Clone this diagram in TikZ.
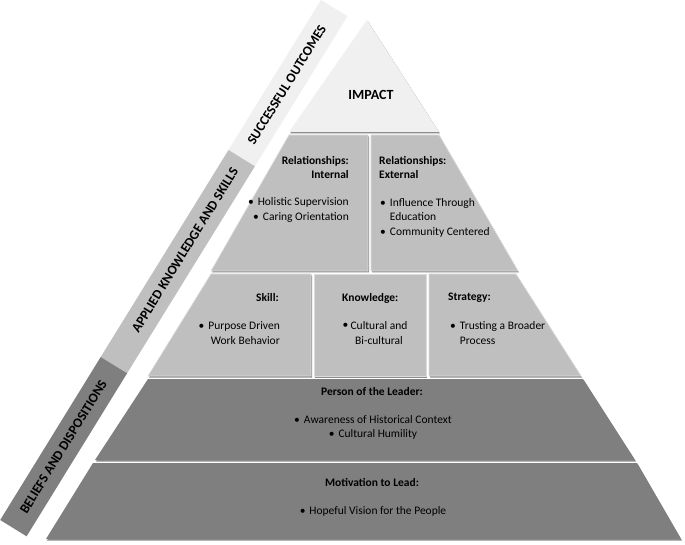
\documentclass[tikz,border=0pt]{standalone}
\usepackage{fontspec}
\setmainfont{Carlito}
\usetikzlibrary{shadows}
\definecolor{lightband}{HTML}{F0F0F0}
\definecolor{midband}{HTML}{BFBFBF}
\definecolor{darkband}{HTML}{7F7F7F}
\tikzset{
  band/.style={drop shadow={shadow xshift=1pt, shadow yshift=-1.5pt, opacity=0.45, fill=black}},
  midbox/.style={band, fill=midband, draw=midband!55!white, line width=0.6pt},
  darkbox/.style={band, fill=darkband},
  hdr/.style={font=\fontsize{11.5}{13.5}\selectfont\bfseries, inner sep=0pt},
  bodytext/.style={font=\fontsize{11.5}{14.5}\selectfont, inner sep=0pt},
  striplabel/.style={font=\fontsize{13.5}{15}\selectfont\bfseries, rotate=58.3, inner sep=0pt},
}
\newcommand{\bul}{\textbullet\hspace{4pt}}
\newcommand{\hang}{\hphantom{\textbullet\hspace{4pt}}}
\begin{document}
\begin{tikzpicture}[x=1pt, y=-1pt]
\useasboundingbox (0,0) rectangle (685,545);
\fill[white] (0,0) rectangle (685,545);
% left strips
\fill[lightband] (321,0) -- (347.4,16.3) -- (254.9,166.3) -- (228.5,150) -- cycle;
\fill[midband] (228.5,150) -- (254.9,166.3) -- (127.1,373.3) -- (100.7,357) -- cycle;
\fill[darkband] (100.7,357) -- (127.1,373.3) -- (26.6,536.3) -- (0.2,520) -- cycle;
\node[striplabel] (so) at (286.8,85) {SUCCESSFUL OUTCOMES};
\node[striplabel] (ak) at (185,250) {APPLIED KNOWLEDGE AND SKILLS};
\node[striplabel] (bd) at (63.4,447) {BELIEFS AND DISPOSITIONS};
% pyramid
\path[band, fill=lightband] (367,20) -- (439,132) -- (289,132) -- cycle;
\path[midbox] (289,135) -- (368,135) -- (368,271) -- (211,271) -- cycle;
\path[midbox] (371,135) -- (439,135) -- (518,271) -- (371,271) -- cycle;
\path[midbox] (211,274) -- (311,274) -- (311,376) -- (148,376) -- cycle;
\path[midbox] (314,274) -- (426,274) -- (426,376) -- (314,376) -- cycle;
\path[midbox] (429,274) -- (516,274) -- (581,376) -- (429,376) -- cycle;
\path[darkbox] (148,379) -- (583,379) -- (635,460) -- (95,460) -- cycle;
\path[darkbox] (93,463) -- (637,463) -- (681,539) -- (46,539) -- cycle;
% texts
\node[font=\fontsize{14}{16}\selectfont\bfseries, inner sep=0pt] (impact) at (371,95) {IMPACT};
\node[hdr, align=right, anchor=east] (rih) at (349,167.5) {Relationships:\\Internal};
\node[bodytext, align=right, anchor=east] (rib) at (349,210) {\bul Holistic Supervision\\\bul Caring Orientation};
\node[hdr, align=left, anchor=west] (reh) at (379,167.5) {Relationships:\\External};
\node[bodytext, align=left, anchor=west] (reb) at (380,217.5) {\bul Influence Through\\\hang Education\\\bul Community Centered};
\node[hdr, anchor=east] (skh) at (279,298) {Skill:};
\node[bodytext, align=right, anchor=east] (skb) at (280,333) {\bul Purpose Driven\\Work Behavior};
\node[hdr, anchor=west] (knh) at (342,298) {Knowledge:};
\node[bodytext, anchor=center] (knd) at (345.5,326) {\textbullet};
\node[bodytext, align=center] (knb) at (379,333) {Cultural and\\Bi-cultural};
\node[hdr, anchor=west] (sth) at (448,298) {Strategy:};
\node[bodytext, align=left, anchor=west] (stb) at (450,333) {\bul Trusting a Broader\\\hang Process};
\node[hdr] (plh) at (372,392) {Person of the Leader:};
\node[bodytext, align=center] (plb) at (373,427.5) {\bul Awareness of Historical Context\\\bul Cultural Humility};
\node[hdr] (mlh) at (372,482) {Motivation to Lead:};
\node[bodytext] (mlb) at (373,511) {\bul Hopeful Vision for the People};
\end{tikzpicture}
\end{document}
